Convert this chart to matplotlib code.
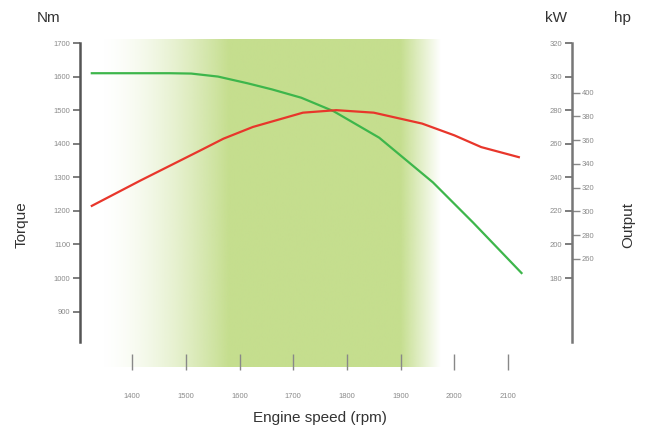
import matplotlib
matplotlib.use("Agg")
import matplotlib.pyplot as plt
import numpy as np
from matplotlib.colors import to_rgb

plt.rcParams["font.family"] = ["Liberation Sans", "DejaVu Sans"]

# torque curve (Nm) and output curve (kW)
torque_rpm = [1325, 1470, 1510, 1560, 1615, 1660, 1715, 1775, 1860, 1960, 2035, 2125]
torque_nm = [1610, 1610, 1609, 1600, 1580, 1562, 1537, 1497, 1418, 1285, 1165, 1015]
power_rpm = [1325, 1415, 1527, 1570, 1625, 1718, 1780, 1850, 1940, 2000, 2050, 2120]
power_kw = [223, 238, 256, 263, 270, 278.5, 280, 278.5, 272, 265, 258, 252]

x_ticks = [1400, 1500, 1600, 1700, 1800, 1900, 2000, 2100]
nm_ticks = [900, 1000, 1100, 1200, 1300, 1400, 1500, 1600, 1700]
kw_ticks = [180, 200, 220, 240, 260, 280, 300, 320]
hp_ticks = [260, 280, 300, 320, 340, 360, 380, 400]

# shaded sweet-spot band: fade in, full, fade out (rpm)
band_edges = [1340, 1580, 1900, 1975]

HP_PER_KW = 1.413
HP_OFFSET = -10.5

band_color = "#c5de8e"
torque_color = "#3db64b"
power_color = "#e8362b"
tick_color = "#8a8a8a"
text_color = "#333333"

fig = plt.figure(figsize=(6.52, 4.30), dpi=100)
W, H = 652, 430
left, right, top, bottom = 80, 572, 43, 362
ax = fig.add_axes([left / W, 1 - bottom / H, (right - left) / W, (bottom - top) / H])
ax.patch.set_alpha(0)

xlim = (1303, 2219)
ylim = (750, 1700)

# gradient band
xs = np.linspace(xlim[0], xlim[1], 800)
alpha = np.interp(xs, band_edges, [0, 1, 1, 0])
alpha = np.where(xs < band_edges[1], alpha ** 1.6, alpha)
rgba = np.zeros((1, len(xs), 4))
rgba[..., :3] = to_rgb(band_color)
rgba[..., 3] = alpha
ax.imshow(rgba, extent=[xlim[0], xlim[1], 735, 1710], aspect="auto",
          zorder=0, interpolation="bilinear", clip_on=False)
ax.set_xlim(*xlim)
ax.set_ylim(*ylim)

ax.plot(torque_rpm, torque_nm, color=torque_color, lw=1.6, zorder=3)

for s in ["top", "right", "bottom"]:
    ax.spines[s].set_visible(False)
ax.spines["left"].set_bounds(810, 1700)
ax.spines["left"].set_color("#555555")
ax.spines["left"].set_linewidth(1.8)
ax.set_yticks(nm_ticks)
ax.set_yticklabels([str(v) for v in nm_ticks])
ax.tick_params(axis="y", direction="out", length=5, width=1.2, color="#666666",
               labelsize=5.5, labelcolor=tick_color, pad=2)
ax.set_xticks(x_ticks)
ax.set_xticklabels([str(v) for v in x_ticks])
ax.tick_params(axis="x", direction="inout", length=12, width=1.0, color="#888888",
               labelsize=5.5, labelcolor=tick_color, pad=16)

# kW axis
ax2 = ax.twinx()
ax2.set_ylim(130, 320)
ax2.plot(power_rpm, power_kw, color=power_color, lw=1.6, zorder=3)
for s in ["top", "right", "bottom"]:
    ax2.spines[s].set_visible(False)
ax2.spines["left"].set_position(("axes", 1.0))
ax2.spines["left"].set_bounds(142, 320)
ax2.spines["left"].set_color("#777777")
ax2.spines["left"].set_linewidth(1.8)
ax2.yaxis.set_ticks_position("left")
ax2.yaxis.set_label_position("left")
ax2.set_yticks(kw_ticks)
ax2.set_yticklabels([str(v) for v in kw_ticks])
ax2.tick_params(axis="y", direction="out", length=5, width=1.2, color="#666666",
                labelsize=5.5, labelcolor=tick_color, pad=2)

# hp axis
sec = ax2.secondary_yaxis(1.0, functions=(lambda k: HP_PER_KW * k + HP_OFFSET,
                                           lambda h: (h - HP_OFFSET) / HP_PER_KW))
sec.spines["right"].set_visible(False)
sec.set_yticks(hp_ticks)
sec.set_yticklabels([str(v) for v in hp_ticks])
sec.tick_params(axis="y", direction="out", length=6, width=1.0, color="#888888",
                labelsize=5.5, labelcolor=tick_color, pad=1)

fig.text(37 / W, 1 - 18 / H, "Nm", fontsize=11, color=text_color, va="center")
fig.text(545 / W, 1 - 18 / H, "kW", fontsize=11, color=text_color, va="center")
fig.text(614 / W, 1 - 18 / H, "hp", fontsize=11, color=text_color, va="center")
fig.text(22 / W, 1 - 225 / H, "Torque", fontsize=11, color=text_color,
         rotation=90, va="center", ha="center")
fig.text(628 / W, 1 - 225 / H, "Output", fontsize=11, color=text_color,
         rotation=90, va="center", ha="center")
fig.text(320 / W, 1 - 418 / H, "Engine speed (rpm)", fontsize=11, color=text_color,
         va="center", ha="center")

fig.savefig("out.png", dpi=100)
